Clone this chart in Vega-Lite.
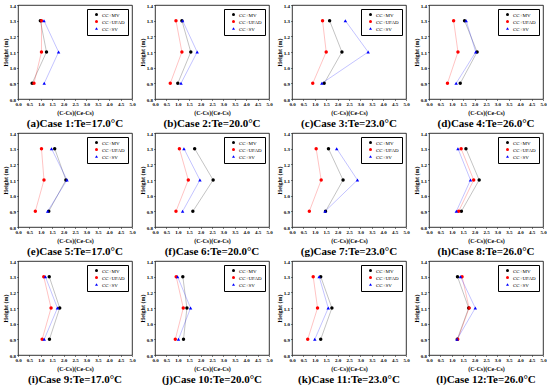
{
"$schema":"https://vega.github.io/schema/vega-lite/v6.json",
"padding":{"left":1,"top":2,"right":0,"bottom":0},
"background":"white",
"datasets":{"d":[
{"p":1,"s":"CC+MV","h":0.9,"v":0.62},{"p":1,"s":"CC+MV","h":1.1,"v":1.25},{"p":1,"s":"CC+MV","h":1.3,"v":0.98},
{"p":1,"s":"CC+UFAD","h":0.9,"v":0.70},{"p":1,"s":"CC+UFAD","h":1.1,"v":1.03},{"p":1,"s":"CC+UFAD","h":1.3,"v":1.03},
{"p":1,"s":"CC+SV","h":0.9,"v":1.15},{"p":1,"s":"CC+SV","h":1.1,"v":1.78},{"p":1,"s":"CC+SV","h":1.3,"v":1.14},
{"p":2,"s":"CC+MV","h":0.9,"v":1.00},{"p":2,"s":"CC+MV","h":1.1,"v":1.57},{"p":2,"s":"CC+MV","h":1.3,"v":1.18},
{"p":2,"s":"CC+UFAD","h":0.9,"v":0.67},{"p":2,"s":"CC+UFAD","h":1.1,"v":1.18},{"p":2,"s":"CC+UFAD","h":1.3,"v":0.92},
{"p":2,"s":"CC+SV","h":0.9,"v":1.14},{"p":2,"s":"CC+SV","h":1.1,"v":1.85},{"p":2,"s":"CC+SV","h":1.3,"v":1.21},
{"p":3,"s":"CC+MV","h":0.9,"v":1.41},{"p":3,"s":"CC+MV","h":1.1,"v":2.19},{"p":3,"s":"CC+MV","h":1.3,"v":1.65},
{"p":3,"s":"CC+UFAD","h":0.9,"v":0.91},{"p":3,"s":"CC+UFAD","h":1.1,"v":1.50},{"p":3,"s":"CC+UFAD","h":1.3,"v":1.34},
{"p":3,"s":"CC+SV","h":0.9,"v":1.31},{"p":3,"s":"CC+SV","h":1.1,"v":3.34},{"p":3,"s":"CC+SV","h":1.3,"v":2.34},
{"p":4,"s":"CC+MV","h":0.9,"v":1.37},{"p":4,"s":"CC+MV","h":1.1,"v":2.11},{"p":4,"s":"CC+MV","h":1.3,"v":1.56},
{"p":4,"s":"CC+UFAD","h":0.9,"v":0.81},{"p":4,"s":"CC+UFAD","h":1.1,"v":1.27},{"p":4,"s":"CC+UFAD","h":1.3,"v":1.08},
{"p":4,"s":"CC+SV","h":0.9,"v":1.19},{"p":4,"s":"CC+SV","h":1.1,"v":2.05},{"p":4,"s":"CC+SV","h":1.3,"v":1.63},
{"p":5,"s":"CC+MV","h":0.9,"v":1.35},{"p":5,"s":"CC+MV","h":1.1,"v":2.10},{"p":5,"s":"CC+MV","h":1.3,"v":1.61},
{"p":5,"s":"CC+UFAD","h":0.9,"v":0.76},{"p":5,"s":"CC+UFAD","h":1.1,"v":1.14},{"p":5,"s":"CC+UFAD","h":1.3,"v":1.03},
{"p":5,"s":"CC+SV","h":0.9,"v":1.30},{"p":5,"s":"CC+SV","h":1.1,"v":2.15},{"p":5,"s":"CC+SV","h":1.3,"v":1.47},
{"p":6,"s":"CC+MV","h":0.9,"v":1.66},{"p":6,"s":"CC+MV","h":1.1,"v":2.55},{"p":6,"s":"CC+MV","h":1.3,"v":1.74},
{"p":6,"s":"CC+UFAD","h":0.9,"v":0.92},{"p":6,"s":"CC+UFAD","h":1.1,"v":1.46},{"p":6,"s":"CC+UFAD","h":1.3,"v":1.07},
{"p":6,"s":"CC+SV","h":0.9,"v":1.21},{"p":6,"s":"CC+SV","h":1.1,"v":1.97},{"p":6,"s":"CC+SV","h":1.3,"v":1.27},
{"p":7,"s":"CC+MV","h":0.9,"v":1.47},{"p":7,"s":"CC+MV","h":1.1,"v":2.24},{"p":7,"s":"CC+MV","h":1.3,"v":1.60},
{"p":7,"s":"CC+UFAD","h":0.9,"v":0.76},{"p":7,"s":"CC+UFAD","h":1.1,"v":1.28},{"p":7,"s":"CC+UFAD","h":1.3,"v":1.06},
{"p":7,"s":"CC+SV","h":0.9,"v":1.45},{"p":7,"s":"CC+SV","h":1.1,"v":2.87},{"p":7,"s":"CC+SV","h":1.3,"v":1.96},
{"p":8,"s":"CC+MV","h":0.9,"v":1.42},{"p":8,"s":"CC+MV","h":1.1,"v":2.20},{"p":8,"s":"CC+MV","h":1.3,"v":1.62},
{"p":8,"s":"CC+UFAD","h":0.9,"v":1.30},{"p":8,"s":"CC+UFAD","h":1.1,"v":1.96},{"p":8,"s":"CC+UFAD","h":1.3,"v":1.41},
{"p":8,"s":"CC+SV","h":0.9,"v":1.20},{"p":8,"s":"CC+SV","h":1.1,"v":1.82},{"p":8,"s":"CC+SV","h":1.3,"v":1.27},
{"p":9,"s":"CC+MV","h":0.9,"v":1.38},{"p":9,"s":"CC+MV","h":1.1,"v":1.83},{"p":9,"s":"CC+MV","h":1.3,"v":1.37},
{"p":9,"s":"CC+UFAD","h":0.9,"v":1.06},{"p":9,"s":"CC+UFAD","h":1.1,"v":1.45},{"p":9,"s":"CC+UFAD","h":1.3,"v":1.13},
{"p":9,"s":"CC+SV","h":0.9,"v":1.15},{"p":9,"s":"CC+SV","h":1.1,"v":1.73},{"p":9,"s":"CC+SV","h":1.3,"v":1.20},
{"p":10,"s":"CC+MV","h":0.9,"v":1.25},{"p":10,"s":"CC+MV","h":1.1,"v":1.40},{"p":10,"s":"CC+MV","h":1.3,"v":1.22},
{"p":10,"s":"CC+UFAD","h":0.9,"v":0.89},{"p":10,"s":"CC+UFAD","h":1.1,"v":1.24},{"p":10,"s":"CC+UFAD","h":1.3,"v":0.93},
{"p":10,"s":"CC+SV","h":0.9,"v":1.03},{"p":10,"s":"CC+SV","h":1.1,"v":1.56},{"p":10,"s":"CC+SV","h":1.3,"v":0.99},
{"p":11,"s":"CC+MV","h":0.9,"v":1.26},{"p":11,"s":"CC+MV","h":1.1,"v":1.75},{"p":11,"s":"CC+MV","h":1.3,"v":1.26},
{"p":11,"s":"CC+UFAD","h":0.9,"v":0.69},{"p":11,"s":"CC+UFAD","h":1.1,"v":1.12},{"p":11,"s":"CC+UFAD","h":1.3,"v":0.93},
{"p":11,"s":"CC+SV","h":0.9,"v":1.00},{"p":11,"s":"CC+SV","h":1.1,"v":1.59},{"p":11,"s":"CC+SV","h":1.3,"v":1.19},
{"p":12,"s":"CC+MV","h":0.9,"v":1.24},{"p":12,"s":"CC+MV","h":1.1,"v":1.74},{"p":12,"s":"CC+MV","h":1.3,"v":1.25},
{"p":12,"s":"CC+UFAD","h":0.9,"v":1.26},{"p":12,"s":"CC+UFAD","h":1.1,"v":1.76},{"p":12,"s":"CC+UFAD","h":1.3,"v":1.45},
{"p":12,"s":"CC+SV","h":0.9,"v":1.23},{"p":12,"s":"CC+SV","h":1.1,"v":2.03},{"p":12,"s":"CC+SV","h":1.3,"v":1.38}
]},
"columns":4,
"spacing":{"row":1,"column":2},
"resolve":{"scale":{"color":"independent","shape":"independent"},"legend":{"color":"independent","shape":"independent"}},
"concat":[
{"data":{"name":"d"},"transform":[{"filter":"datum.p==1"}],"width":114,"height":94,"title":"(a)Case 1:Te=17.0°C",
 "encoding":{"x":{"field":"v","type":"quantitative","scale":{"domain":[0,5]},"axis":{"title":"(C-Cs)(Ce-Cs)","values":[0,0.5,1,1.5,2,2.5,3,3.5,4,4.5,5],"format":".1f"}},"y":{"field":"h","type":"quantitative","scale":{"domain":[0.8,1.4]},"axis":{"title":"Height (m)","values":[0.8,0.9,1,1.1,1.2,1.3,1.4],"format":".1f"}},"color":{"field":"s","type":"nominal","scale":{"domain":["CC+MV","CC+UFAD","CC+SV"],"range":["black","red","blue"]},"title":null}},
 "layer":[
 {"mark":{"type":"point","filled":true,"opacity":1,"size":12},"encoding":{"shape":{"field":"s","type":"nominal","scale":{"domain":["CC+MV","CC+UFAD","CC+SV"],"range":["circle","circle","triangle-up"]},"title":null}}},
 {"mark":{"type":"line","strokeWidth":0.6,"opacity":0.4},"encoding":{"order":{"field":"h"}}}
 ]},
{"data":{"name":"d"},"transform":[{"filter":"datum.p==2"}],"width":114,"height":94,"title":"(b)Case 2:Te=20.0°C",
 "encoding":{"x":{"field":"v","type":"quantitative","scale":{"domain":[0,5]},"axis":{"title":"(C-Cs)(Ce-Cs)","values":[0,0.5,1,1.5,2,2.5,3,3.5,4,4.5,5],"format":".1f"}},"y":{"field":"h","type":"quantitative","scale":{"domain":[0.8,1.4]},"axis":{"title":"Height (m)","values":[0.8,0.9,1,1.1,1.2,1.3,1.4],"format":".1f"}},"color":{"field":"s","type":"nominal","scale":{"domain":["CC+MV","CC+UFAD","CC+SV"],"range":["black","red","blue"]},"title":null}},
 "layer":[
 {"mark":{"type":"point","filled":true,"opacity":1,"size":12},"encoding":{"shape":{"field":"s","type":"nominal","scale":{"domain":["CC+MV","CC+UFAD","CC+SV"],"range":["circle","circle","triangle-up"]},"title":null}}},
 {"mark":{"type":"line","strokeWidth":0.6,"opacity":0.4},"encoding":{"order":{"field":"h"}}}
 ]},
{"data":{"name":"d"},"transform":[{"filter":"datum.p==3"}],"width":114,"height":94,"title":"(c)Case 3:Te=23.0°C",
 "encoding":{"x":{"field":"v","type":"quantitative","scale":{"domain":[0,5]},"axis":{"title":"(C-Cs)(Ce-Cs)","values":[0,0.5,1,1.5,2,2.5,3,3.5,4,4.5,5],"format":".1f"}},"y":{"field":"h","type":"quantitative","scale":{"domain":[0.8,1.4]},"axis":{"title":"Height (m)","values":[0.8,0.9,1,1.1,1.2,1.3,1.4],"format":".1f"}},"color":{"field":"s","type":"nominal","scale":{"domain":["CC+MV","CC+UFAD","CC+SV"],"range":["black","red","blue"]},"title":null}},
 "layer":[
 {"mark":{"type":"point","filled":true,"opacity":1,"size":12},"encoding":{"shape":{"field":"s","type":"nominal","scale":{"domain":["CC+MV","CC+UFAD","CC+SV"],"range":["circle","circle","triangle-up"]},"title":null}}},
 {"mark":{"type":"line","strokeWidth":0.6,"opacity":0.4},"encoding":{"order":{"field":"h"}}}
 ]},
{"data":{"name":"d"},"transform":[{"filter":"datum.p==4"}],"width":114,"height":94,"title":"(d)Case 4:Te=26.0°C",
 "encoding":{"x":{"field":"v","type":"quantitative","scale":{"domain":[0,5]},"axis":{"title":"(C-Cs)(Ce-Cs)","values":[0,0.5,1,1.5,2,2.5,3,3.5,4,4.5,5],"format":".1f"}},"y":{"field":"h","type":"quantitative","scale":{"domain":[0.8,1.4]},"axis":{"title":"Height (m)","values":[0.8,0.9,1,1.1,1.2,1.3,1.4],"format":".1f"}},"color":{"field":"s","type":"nominal","scale":{"domain":["CC+MV","CC+UFAD","CC+SV"],"range":["black","red","blue"]},"title":null}},
 "layer":[
 {"mark":{"type":"point","filled":true,"opacity":1,"size":12},"encoding":{"shape":{"field":"s","type":"nominal","scale":{"domain":["CC+MV","CC+UFAD","CC+SV"],"range":["circle","circle","triangle-up"]},"title":null}}},
 {"mark":{"type":"line","strokeWidth":0.6,"opacity":0.4},"encoding":{"order":{"field":"h"}}}
 ]},
{"data":{"name":"d"},"transform":[{"filter":"datum.p==5"}],"width":114,"height":94,"title":"(e)Case 5:Te=17.0°C",
 "encoding":{"x":{"field":"v","type":"quantitative","scale":{"domain":[0,5]},"axis":{"title":"(C-Cs)(Ce-Cs)","values":[0,0.5,1,1.5,2,2.5,3,3.5,4,4.5,5],"format":".1f"}},"y":{"field":"h","type":"quantitative","scale":{"domain":[0.8,1.4]},"axis":{"title":"Height (m)","values":[0.8,0.9,1,1.1,1.2,1.3,1.4],"format":".1f"}},"color":{"field":"s","type":"nominal","scale":{"domain":["CC+MV","CC+UFAD","CC+SV"],"range":["black","red","blue"]},"title":null}},
 "layer":[
 {"mark":{"type":"point","filled":true,"opacity":1,"size":12},"encoding":{"shape":{"field":"s","type":"nominal","scale":{"domain":["CC+MV","CC+UFAD","CC+SV"],"range":["circle","circle","triangle-up"]},"title":null}}},
 {"mark":{"type":"line","strokeWidth":0.6,"opacity":0.4},"encoding":{"order":{"field":"h"}}}
 ]},
{"data":{"name":"d"},"transform":[{"filter":"datum.p==6"}],"width":114,"height":94,"title":"(f)Case 6:Te=20.0°C",
 "encoding":{"x":{"field":"v","type":"quantitative","scale":{"domain":[0,5]},"axis":{"title":"(C-Cs)(Ce-Cs)","values":[0,0.5,1,1.5,2,2.5,3,3.5,4,4.5,5],"format":".1f"}},"y":{"field":"h","type":"quantitative","scale":{"domain":[0.8,1.4]},"axis":{"title":"Height (m)","values":[0.8,0.9,1,1.1,1.2,1.3,1.4],"format":".1f"}},"color":{"field":"s","type":"nominal","scale":{"domain":["CC+MV","CC+UFAD","CC+SV"],"range":["black","red","blue"]},"title":null}},
 "layer":[
 {"mark":{"type":"point","filled":true,"opacity":1,"size":12},"encoding":{"shape":{"field":"s","type":"nominal","scale":{"domain":["CC+MV","CC+UFAD","CC+SV"],"range":["circle","circle","triangle-up"]},"title":null}}},
 {"mark":{"type":"line","strokeWidth":0.6,"opacity":0.4},"encoding":{"order":{"field":"h"}}}
 ]},
{"data":{"name":"d"},"transform":[{"filter":"datum.p==7"}],"width":114,"height":94,"title":"(g)Case 7:Te=23.0°C",
 "encoding":{"x":{"field":"v","type":"quantitative","scale":{"domain":[0,5]},"axis":{"title":"(C-Cs)(Ce-Cs)","values":[0,0.5,1,1.5,2,2.5,3,3.5,4,4.5,5],"format":".1f"}},"y":{"field":"h","type":"quantitative","scale":{"domain":[0.8,1.4]},"axis":{"title":"Height (m)","values":[0.8,0.9,1,1.1,1.2,1.3,1.4],"format":".1f"}},"color":{"field":"s","type":"nominal","scale":{"domain":["CC+MV","CC+UFAD","CC+SV"],"range":["black","red","blue"]},"title":null}},
 "layer":[
 {"mark":{"type":"point","filled":true,"opacity":1,"size":12},"encoding":{"shape":{"field":"s","type":"nominal","scale":{"domain":["CC+MV","CC+UFAD","CC+SV"],"range":["circle","circle","triangle-up"]},"title":null}}},
 {"mark":{"type":"line","strokeWidth":0.6,"opacity":0.4},"encoding":{"order":{"field":"h"}}}
 ]},
{"data":{"name":"d"},"transform":[{"filter":"datum.p==8"}],"width":114,"height":94,"title":"(h)Case 8:Te=26.0°C",
 "encoding":{"x":{"field":"v","type":"quantitative","scale":{"domain":[0,5]},"axis":{"title":"(C-Cs)(Ce-Cs)","values":[0,0.5,1,1.5,2,2.5,3,3.5,4,4.5,5],"format":".1f"}},"y":{"field":"h","type":"quantitative","scale":{"domain":[0.8,1.4]},"axis":{"title":"Height (m)","values":[0.8,0.9,1,1.1,1.2,1.3,1.4],"format":".1f"}},"color":{"field":"s","type":"nominal","scale":{"domain":["CC+MV","CC+UFAD","CC+SV"],"range":["black","red","blue"]},"title":null}},
 "layer":[
 {"mark":{"type":"point","filled":true,"opacity":1,"size":12},"encoding":{"shape":{"field":"s","type":"nominal","scale":{"domain":["CC+MV","CC+UFAD","CC+SV"],"range":["circle","circle","triangle-up"]},"title":null}}},
 {"mark":{"type":"line","strokeWidth":0.6,"opacity":0.4},"encoding":{"order":{"field":"h"}}}
 ]},
{"data":{"name":"d"},"transform":[{"filter":"datum.p==9"}],"width":114,"height":94,"title":"(i)Case 9:Te=17.0°C",
 "encoding":{"x":{"field":"v","type":"quantitative","scale":{"domain":[0,5]},"axis":{"title":"(C-Cs)(Ce-Cs)","values":[0,0.5,1,1.5,2,2.5,3,3.5,4,4.5,5],"format":".1f"}},"y":{"field":"h","type":"quantitative","scale":{"domain":[0.8,1.4]},"axis":{"title":"Height (m)","values":[0.8,0.9,1,1.1,1.2,1.3,1.4],"format":".1f"}},"color":{"field":"s","type":"nominal","scale":{"domain":["CC+MV","CC+UFAD","CC+SV"],"range":["black","red","blue"]},"title":null}},
 "layer":[
 {"mark":{"type":"point","filled":true,"opacity":1,"size":12},"encoding":{"shape":{"field":"s","type":"nominal","scale":{"domain":["CC+MV","CC+UFAD","CC+SV"],"range":["circle","circle","triangle-up"]},"title":null}}},
 {"mark":{"type":"line","strokeWidth":0.6,"opacity":0.4},"encoding":{"order":{"field":"h"}}}
 ]},
{"data":{"name":"d"},"transform":[{"filter":"datum.p==10"}],"width":114,"height":94,"title":"(j)Case 10:Te=20.0°C",
 "encoding":{"x":{"field":"v","type":"quantitative","scale":{"domain":[0,5]},"axis":{"title":"(C-Cs)(Ce-Cs)","values":[0,0.5,1,1.5,2,2.5,3,3.5,4,4.5,5],"format":".1f"}},"y":{"field":"h","type":"quantitative","scale":{"domain":[0.8,1.4]},"axis":{"title":"Height (m)","values":[0.8,0.9,1,1.1,1.2,1.3,1.4],"format":".1f"}},"color":{"field":"s","type":"nominal","scale":{"domain":["CC+MV","CC+UFAD","CC+SV"],"range":["black","red","blue"]},"title":null}},
 "layer":[
 {"mark":{"type":"point","filled":true,"opacity":1,"size":12},"encoding":{"shape":{"field":"s","type":"nominal","scale":{"domain":["CC+MV","CC+UFAD","CC+SV"],"range":["circle","circle","triangle-up"]},"title":null}}},
 {"mark":{"type":"line","strokeWidth":0.6,"opacity":0.4},"encoding":{"order":{"field":"h"}}}
 ]},
{"data":{"name":"d"},"transform":[{"filter":"datum.p==11"}],"width":114,"height":94,"title":"(k)Case 11:Te=23.0°C",
 "encoding":{"x":{"field":"v","type":"quantitative","scale":{"domain":[0,5]},"axis":{"title":"(C-Cs)(Ce-Cs)","values":[0,0.5,1,1.5,2,2.5,3,3.5,4,4.5,5],"format":".1f"}},"y":{"field":"h","type":"quantitative","scale":{"domain":[0.8,1.4]},"axis":{"title":"Height (m)","values":[0.8,0.9,1,1.1,1.2,1.3,1.4],"format":".1f"}},"color":{"field":"s","type":"nominal","scale":{"domain":["CC+MV","CC+UFAD","CC+SV"],"range":["black","red","blue"]},"title":null}},
 "layer":[
 {"mark":{"type":"point","filled":true,"opacity":1,"size":12},"encoding":{"shape":{"field":"s","type":"nominal","scale":{"domain":["CC+MV","CC+UFAD","CC+SV"],"range":["circle","circle","triangle-up"]},"title":null}}},
 {"mark":{"type":"line","strokeWidth":0.6,"opacity":0.4},"encoding":{"order":{"field":"h"}}}
 ]},
{"data":{"name":"d"},"transform":[{"filter":"datum.p==12"}],"width":114,"height":94,"title":"(l)Case 12:Te=26.0°C",
 "encoding":{"x":{"field":"v","type":"quantitative","scale":{"domain":[0,5]},"axis":{"title":"(C-Cs)(Ce-Cs)","values":[0,0.5,1,1.5,2,2.5,3,3.5,4,4.5,5],"format":".1f"}},"y":{"field":"h","type":"quantitative","scale":{"domain":[0.8,1.4]},"axis":{"title":"Height (m)","values":[0.8,0.9,1,1.1,1.2,1.3,1.4],"format":".1f"}},"color":{"field":"s","type":"nominal","scale":{"domain":["CC+MV","CC+UFAD","CC+SV"],"range":["black","red","blue"]},"title":null}},
 "layer":[
 {"mark":{"type":"point","filled":true,"opacity":1,"size":12},"encoding":{"shape":{"field":"s","type":"nominal","scale":{"domain":["CC+MV","CC+UFAD","CC+SV"],"range":["circle","circle","triangle-up"]},"title":null}}},
 {"mark":{"type":"line","strokeWidth":0.6,"opacity":0.4},"encoding":{"order":{"field":"h"}}}
 ]}
],
"config":{
 "font":"Liberation Serif",
 "view":{"stroke":"black","strokeWidth":0.8},
 "axis":{"labelFont":"Liberation Serif","labelFontSize":5,"labelFontWeight":"bold","labelColor":"black","titleFont":"Liberation Serif","titleFontSize":6,"titleFontWeight":"bold","titleColor":"black","domain":false,"grid":false,"tickSize":1.5,"tickColor":"black","tickWidth":0.5,"labelPadding":1,"labelFlush":false,"labelOverlap":false},
 "axisX":{"titlePadding":3},
 "axisY":{"titlePadding":1},
 "legend":{"orient":"top-right","offset":4,"strokeColor":"#000000","strokeWidth":1,"fillColor":"#ffffff","padding":3,"labelFont":"Liberation Serif","labelFontSize":5,"labelColor":"black","symbolSize":9,"symbolStrokeWidth":0,"symbolOpacity":1,"rowPadding":1,"symbolOffset":4,"labelOffset":3},
 "title":{"font":"Liberation Serif","fontSize":11,"fontWeight":"bold","color":"black","orient":"bottom","offset":2,"anchor":"middle"}
}
}
